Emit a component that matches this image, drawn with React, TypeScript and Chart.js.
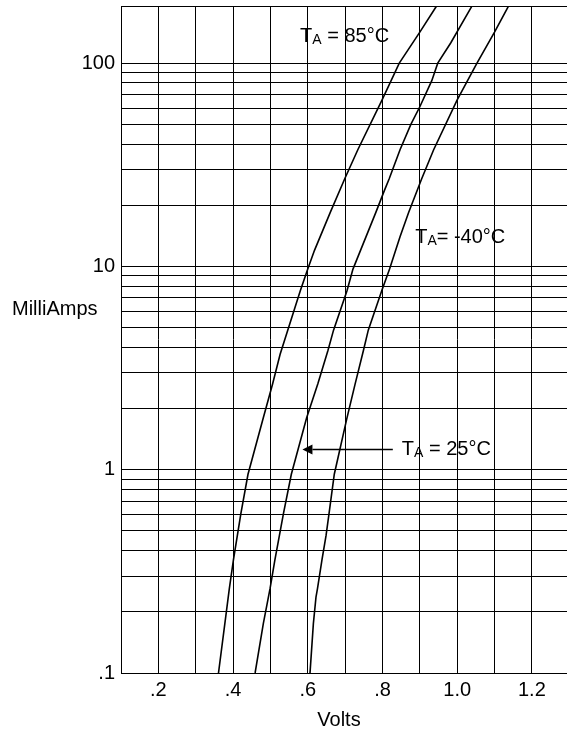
import React, { useEffect, useRef } from 'react';
import { Chart, registerables } from 'chart.js';

Chart.register(...registerables);

// ---- Data ----
// Forward voltage (V) vs forward current (mA), three ambient temperatures
const volts85 = [0.361, 0.378, 0.390, 0.401, 0.421, 0.440, 0.481, 0.506, 0.526, 0.580, 0.600, 0.618, 0.660, 0.699, 0.734, 0.799, 0.845, 0.900, 0.944];
const milliAmps85 = [0.1, 0.175, 0.26, 0.36, 0.61, 0.95, 1.8, 2.65, 3.7, 7.6, 9.7, 12, 18.4, 27, 37.5, 66, 100, 142, 190];

const volts25 = [0.459, 0.481, 0.499, 0.512, 0.535, 0.556, 0.597, 0.627, 0.654, 0.669, 0.705, 0.721, 0.782, 0.805, 0.818, 0.847, 0.876, 0.900, 0.932, 0.948, 0.983, 1.039];
const milliAmps25 = [0.1, 0.175, 0.26, 0.36, 0.61, 0.95, 1.8, 2.65, 3.86, 4.86, 7.6, 9.7, 18.4, 23.6, 27, 37.5, 50, 61, 82, 100, 126, 190];

const voltsMinus40 = [0.606, 0.615, 0.622, 0.626, 0.638, 0.649, 0.657, 0.671, 0.705, 0.727, 0.749, 0.762, 0.798, 0.819, 0.847, 0.870, 0.905, 0.937, 1.000, 1.053, 1.100, 1.137];
const milliAmpsMinus40 = [0.1, 0.175, 0.236, 0.26, 0.36, 0.475, 0.61, 0.95, 1.8, 2.65, 3.86, 4.86, 7.6, 9.7, 14, 18.4, 27, 37.5, 66, 100, 142, 190];

// Axis grid / ticks
const xGridValues = [0.1, 0.2, 0.3, 0.4, 0.5, 0.6, 0.7, 0.8, 0.9, 1.0, 1.1, 1.2];
const xLabelValues = [0.2, 0.4, 0.6, 0.8, 1.0, 1.2];
const xLabelTexts = ['.2', '.4', '.6', '.8', '1.0', '1.2'];
const yGridValues = [
  0.1, 0.2, 0.3, 0.4, 0.5, 0.6, 0.7, 0.8, 0.9,
  1, 2, 3, 4, 5, 6, 7, 8, 9,
  10, 20, 30, 40, 50, 60, 70, 80, 90,
  100,
];
const yLabelValues = [0.1, 1, 10, 100];
const yLabelTexts = ['.1', '1', '10', '100'];
const xMin = 0.1;
const xMax = 1.294;
const yMin = 0.1;
const yMax = 191;

const xTitle = 'Volts';
const yTitle = 'MilliAmps';

// Curve annotations (anchored in data coordinates)
const curveLabelMain = ['T', 'T', 'T'];
const curveLabelSub = ['A', 'A', 'A'];
const curveLabelRest = [' = 85°C', '= -40°C', ' = 25°C'];
const curveLabelV = [0.5795, 0.8875, 0.8519];
const curveLabelI = [127, 13.0, 1.175];
const arrowFromV = 0.8277;
const arrowToV = 0.5857;
const arrowAtI = 1.258;

const FONT = '"Liberation Sans", Arial, Helvetica, sans-serif';

function lookupLabel(value: number, values: number[], texts: string[]): string {
  for (let k = 0; k < values.length; k++) {
    if (Math.abs(values[k] - value) < 1e-6 * Math.max(1, Math.abs(value))) return texts[k];
  }
  return '';
}

function toPoints(xs: number[], ys: number[]) {
  return xs.map((x, i) => ({ x, y: ys[i] }));
}

const annotationPlugin = {
  id: 'diodeAnnotations',
  afterDraw(chart: any) {
    const { ctx, chartArea, scales } = chart;
    const xs = scales.x;
    const ys = scales.y;
    ctx.save();
    // top border of the plot frame
    ctx.strokeStyle = '#000';
    ctx.lineWidth = 1;
    ctx.beginPath();
    ctx.moveTo(chartArea.left, Math.floor(chartArea.top) + 0.5);
    ctx.lineTo(chartArea.right, Math.floor(chartArea.top) + 0.5);
    ctx.stroke();

    ctx.fillStyle = '#000';
    ctx.textBaseline = 'alphabetic';
    ctx.font = `20px ${FONT}`;
    ctx.textAlign = 'left';
    ctx.fillText(yTitle, 12, 315);
    ctx.textAlign = 'center';
    ctx.fillText(xTitle, 339, 726);

    // curve labels with subscript
    ctx.textAlign = 'left';
    for (let k = 0; k < curveLabelMain.length; k++) {
      let px = xs.getPixelForValue(curveLabelV[k]);
      const py = ys.getPixelForValue(curveLabelI[k]);
      ctx.font = `20px ${FONT}`;
      ctx.fillText(curveLabelMain[k], px, py);
      px += ctx.measureText(curveLabelMain[k]).width;
      ctx.font = `14px ${FONT}`;
      ctx.fillText(curveLabelSub[k], px, py + 2);
      px += ctx.measureText(curveLabelSub[k]).width;
      ctx.font = `20px ${FONT}`;
      ctx.fillText(curveLabelRest[k], px, py);
    }

    // arrow pointing to the 25°C curve
    const ax0 = xs.getPixelForValue(arrowFromV);
    const ax1 = xs.getPixelForValue(arrowToV);
    const ay = ys.getPixelForValue(arrowAtI);
    const headLen = 10;
    const headHalf = 5;
    ctx.lineWidth = 1.5;
    ctx.beginPath();
    ctx.moveTo(ax0, ay);
    ctx.lineTo(ax1 + headLen, ay);
    ctx.stroke();
    ctx.beginPath();
    ctx.moveTo(ax1, ay);
    ctx.lineTo(ax1 + headLen, ay - headHalf);
    ctx.lineTo(ax1 + headLen, ay + headHalf);
    ctx.closePath();
    ctx.fill();
    ctx.restore();
  },
};

export default function App() {
  const canvasRef = useRef<HTMLCanvasElement | null>(null);

  useEffect(() => {
    const canvas = canvasRef.current;
    if (!canvas) return;
    const lineStyle = {
      borderColor: '#000',
      backgroundColor: '#000',
      borderWidth: 1.6,
      pointRadius: 0,
      pointHoverRadius: 0,
      tension: 0,
      fill: false,
    };
    const chart = new Chart(canvas, {
      type: 'line',
      data: {
        datasets: [
          { label: 'TA = 85°C', data: toPoints(volts85, milliAmps85), ...lineStyle },
          { label: 'TA = 25°C', data: toPoints(volts25, milliAmps25), ...lineStyle },
          { label: 'TA = -40°C', data: toPoints(voltsMinus40, milliAmpsMinus40), ...lineStyle },
        ],
      },
      options: {
        responsive: false,
        animation: false,
        events: [],
        layout: { padding: { left: 0, right: 0, top: 6, bottom: 0 } },
        plugins: {
          legend: { display: false },
          tooltip: { enabled: false },
          title: { display: false },
        },
        scales: {
          x: {
            type: 'linear',
            min: xMin,
            max: xMax,
            afterBuildTicks: (scale: any) => {
              scale.ticks = xGridValues.map((v) => ({ value: v }));
            },
            afterFit: (scale: any) => {
              scale.height = 60;
              scale.paddingLeft = 0;
              scale.paddingRight = 0;
            },
            grid: { color: '#000', lineWidth: 1, drawTicks: false },
            border: { display: true, color: '#000', width: 1 },
            ticks: {
              autoSkip: false,
              maxRotation: 0,
              padding: 5,
              color: '#000',
              font: { family: FONT, size: 20 },
              callback: (value: any) => lookupLabel(Number(value), xLabelValues, xLabelTexts),
            },
          },
          y: {
            type: 'logarithmic',
            min: yMin,
            max: yMax,
            afterBuildTicks: (scale: any) => {
              scale.ticks = yGridValues.map((v) => ({ value: v }));
            },
            afterFit: (scale: any) => {
              scale.width = 121;
              scale.paddingTop = 0;
              scale.paddingBottom = 0;
            },
            grid: { color: '#000', lineWidth: 1, drawTicks: false },
            border: { display: true, color: '#000', width: 1 },
            ticks: {
              autoSkip: false,
              padding: 6,
              color: '#000',
              font: { family: FONT, size: 20 },
              callback: (value: any) => lookupLabel(Number(value), yLabelValues, yLabelTexts),
            },
          },
        },
      },
      plugins: [annotationPlugin],
    } as any);
    return () => {
      chart.destroy();
    };
  }, []);

  return (
    <div style={{ position: 'absolute', left: 0, top: 0, width: 567, height: 733, background: '#fff' }}>
      <canvas ref={canvasRef} width={567} height={733} style={{ display: 'block', width: 567, height: 733 }} />
    </div>
  );
}
